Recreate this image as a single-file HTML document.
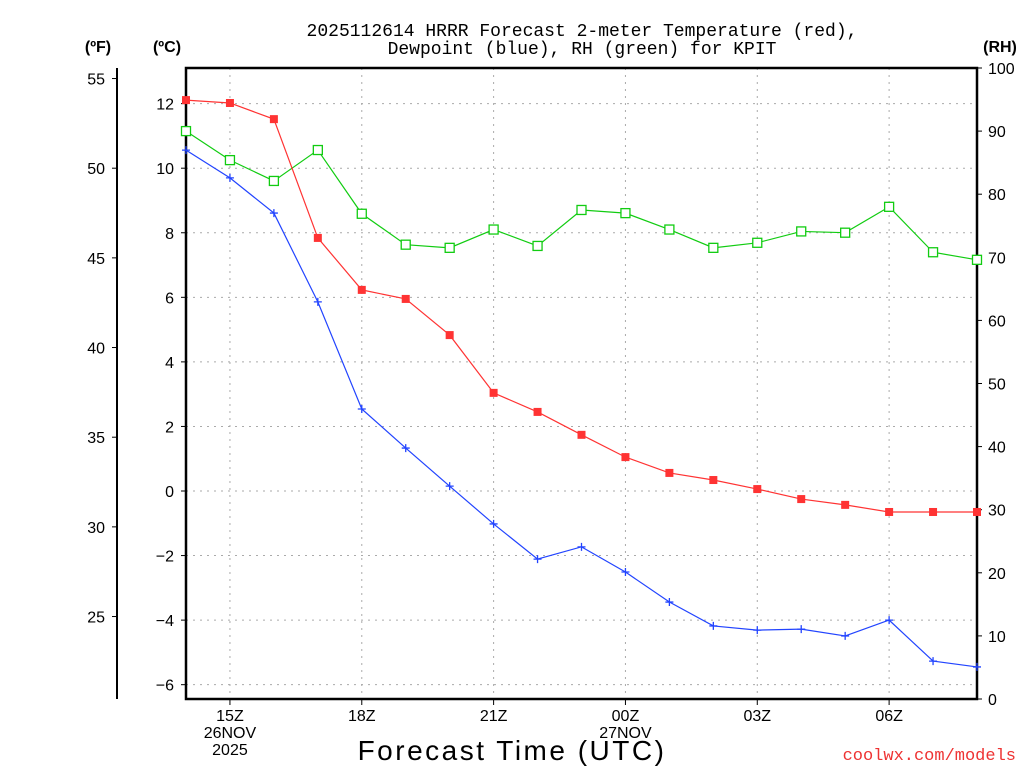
<!DOCTYPE html>
<html><head><meta charset="utf-8"><style>
html,body{margin:0;padding:0;background:#fff;}
svg text{font-family:"Liberation Sans",sans-serif;}
</style></head><body>
<svg id="chart" width="1024" height="768" xmlns="http://www.w3.org/2000/svg">
<text x="582" y="36" font-size="18" text-anchor="middle" style="font-family:'Liberation Mono',monospace">2025112614 HRRR Forecast 2-meter Temperature (red),</text>
<text x="582" y="54" font-size="18" text-anchor="middle" style="font-family:'Liberation Mono',monospace">Dewpoint (blue), RH (green) for KPIT</text>
<text x="98" y="52" font-size="16" font-weight="bold" text-anchor="middle">(ºF)</text>
<text x="167" y="52" font-size="16" font-weight="bold" text-anchor="middle">(ºC)</text>
<text x="1000" y="52" font-size="16" font-weight="bold" text-anchor="middle">(RH)</text>
<text x="512" y="760" font-size="28" text-anchor="middle" letter-spacing="2.5">Forecast Time (UTC)</text>
<text x="1016" y="760" font-size="17" fill="#e33" text-anchor="end" style="font-family:'Liberation Mono',monospace">coolwx.com/models</text>
<g id="grid"></g><g id="axes"></g><g id="series"></g>
</svg>
<script>
const hours = ["14Z","15Z","16Z","17Z","18Z","19Z","20Z","21Z","22Z","23Z","00Z","01Z","02Z","03Z","04Z","05Z","06Z","07Z","08Z"];
const tempC = [12.11,12.02,11.52,7.84,6.23,5.95,4.83,3.04,2.45,1.74,1.05,0.56,0.34,0.06,-0.25,-0.43,-0.65,-0.65,-0.65];
const dewC = [10.56,9.70,8.61,5.86,2.54,1.33,0.15,-1.02,-2.11,-1.73,-2.51,-3.44,-4.18,-4.31,-4.28,-4.49,-4.0,-5.27,-5.45];
const rh = [90.0,85.4,82.1,87.0,76.9,72.0,71.5,74.4,71.8,77.5,77.0,74.4,71.5,72.3,74.1,73.9,78.0,70.8,69.6];
const cTicks = [12,10,8,6,4,2,0,-2,-4,-6];
const fTicks = [55,50,45,40,35,30,25];
const rhTicks = [100,90,80,70,60,50,40,30,20,10,0];
const xLabels = [{i:1,l:["15Z","26NOV","2025"]},{i:4,l:["18Z"]},{i:7,l:["21Z"]},{i:10,l:["00Z","27NOV"]},{i:13,l:["03Z"]},{i:16,l:["06Z"]}];

const NS="http://www.w3.org/2000/svg";
const L=186,R=977,T=68,B=699;
const xs=i=>L+i*(R-L)/(hours.length-1);
const yC=c=>491-c*32.28;
const yF=f=>yC((f-32)/1.8);
const yRH=v=>B-v*(B-T)/100;
function mk(tag,attrs,parent){const e=document.createElementNS(NS,tag);for(const k in attrs)e.setAttribute(k,attrs[k]);document.getElementById(parent).appendChild(e);return e;}

cTicks.forEach(c=>{
  const g=mk('line',{x1:L,x2:R,y1:yC(c),y2:yC(c),stroke:'#aaa','stroke-dasharray':'2,5'},'grid');
  
  
  const t=mk('line',{x1:L-5,x2:L,y1:yC(c),y2:yC(c),stroke:'#000'},'axes');
  
  
  const tx=mk('text',{x:174,y:yC(c)+6,'font-size':16,'text-anchor':'end'},'axes');
  tx.textContent=(c<0?'−':'')+Math.abs(c);
  
  
});
xLabels.forEach(o=>{
  const x=xs(o.i);
  const g=mk('line',{x1:x,x2:x,y1:T,y2:B,stroke:'#aaa','stroke-dasharray':'2,5'},'grid');
  
  
  const t=mk('line',{x1:x,x2:x,y1:B,y2:B+6,stroke:'#000'},'axes');
  
  
  o.l.forEach((s,k)=>{
    const tx=mk('text',{x:x,y:721+k*17,'font-size':16,'text-anchor':'middle'},'axes');
    tx.textContent=s;
    
    
  });
});
fTicks.forEach(f=>{
  const t=mk('line',{x1:112,x2:117,y1:yF(f),y2:yF(f),stroke:'#000'},'axes');
  
  
  const tx=mk('text',{x:105,y:yF(f)+6,'font-size':16,'text-anchor':'end'},'axes');
  tx.textContent=f;
  
  
});
rhTicks.forEach(v=>{
  const t=mk('line',{x1:R,x2:R+5,y1:yRH(v),y2:yRH(v),stroke:'#000'},'axes');
  
  
  const tx=mk('text',{x:988,y:yRH(v)+6,'font-size':16},'axes');
  tx.textContent=v;
  
  
});
const fa=mk('line',{x1:117,x2:117,y1:T,y2:B,stroke:'#000','stroke-width':2},'axes');


const frame=mk('rect',{x:L,y:T,width:R-L,height:B-T,fill:'none',stroke:'#000','stroke-width':2.5},'axes');



function line(vals,yf,color,name){
  const p=mk('polyline',{points:vals.map((v,i)=>xs(i)+','+yf(v)).join(' '),fill:'none',stroke:color,'stroke-width':1.2},'series');
  
  
}
line(rh,yRH,'#1c1','rh');
line(tempC,yC,'#f33','temperature');
line(dewC,yC,'#24f','dewpoint');
rh.forEach((v,i)=>{
  const m=mk('rect',{x:xs(i)-4.5,y:yRH(v)-4.5,width:9,height:9,fill:'#fff',stroke:'#1c1','stroke-width':1.3},'series');
  
  
});
tempC.forEach((v,i)=>{
  const m=mk('rect',{x:xs(i)-4,y:yC(v)-4,width:8,height:8,fill:'#f33'},'series');
  
  
});
dewC.forEach((v,i)=>{
  const m=mk('path',{d:`M${xs(i)-4},${yC(v)}h8M${xs(i)},${yC(v)-4}v8`,stroke:'#24f','stroke-width':1.3},'series');
  
  
});
</script>
</body></html>
